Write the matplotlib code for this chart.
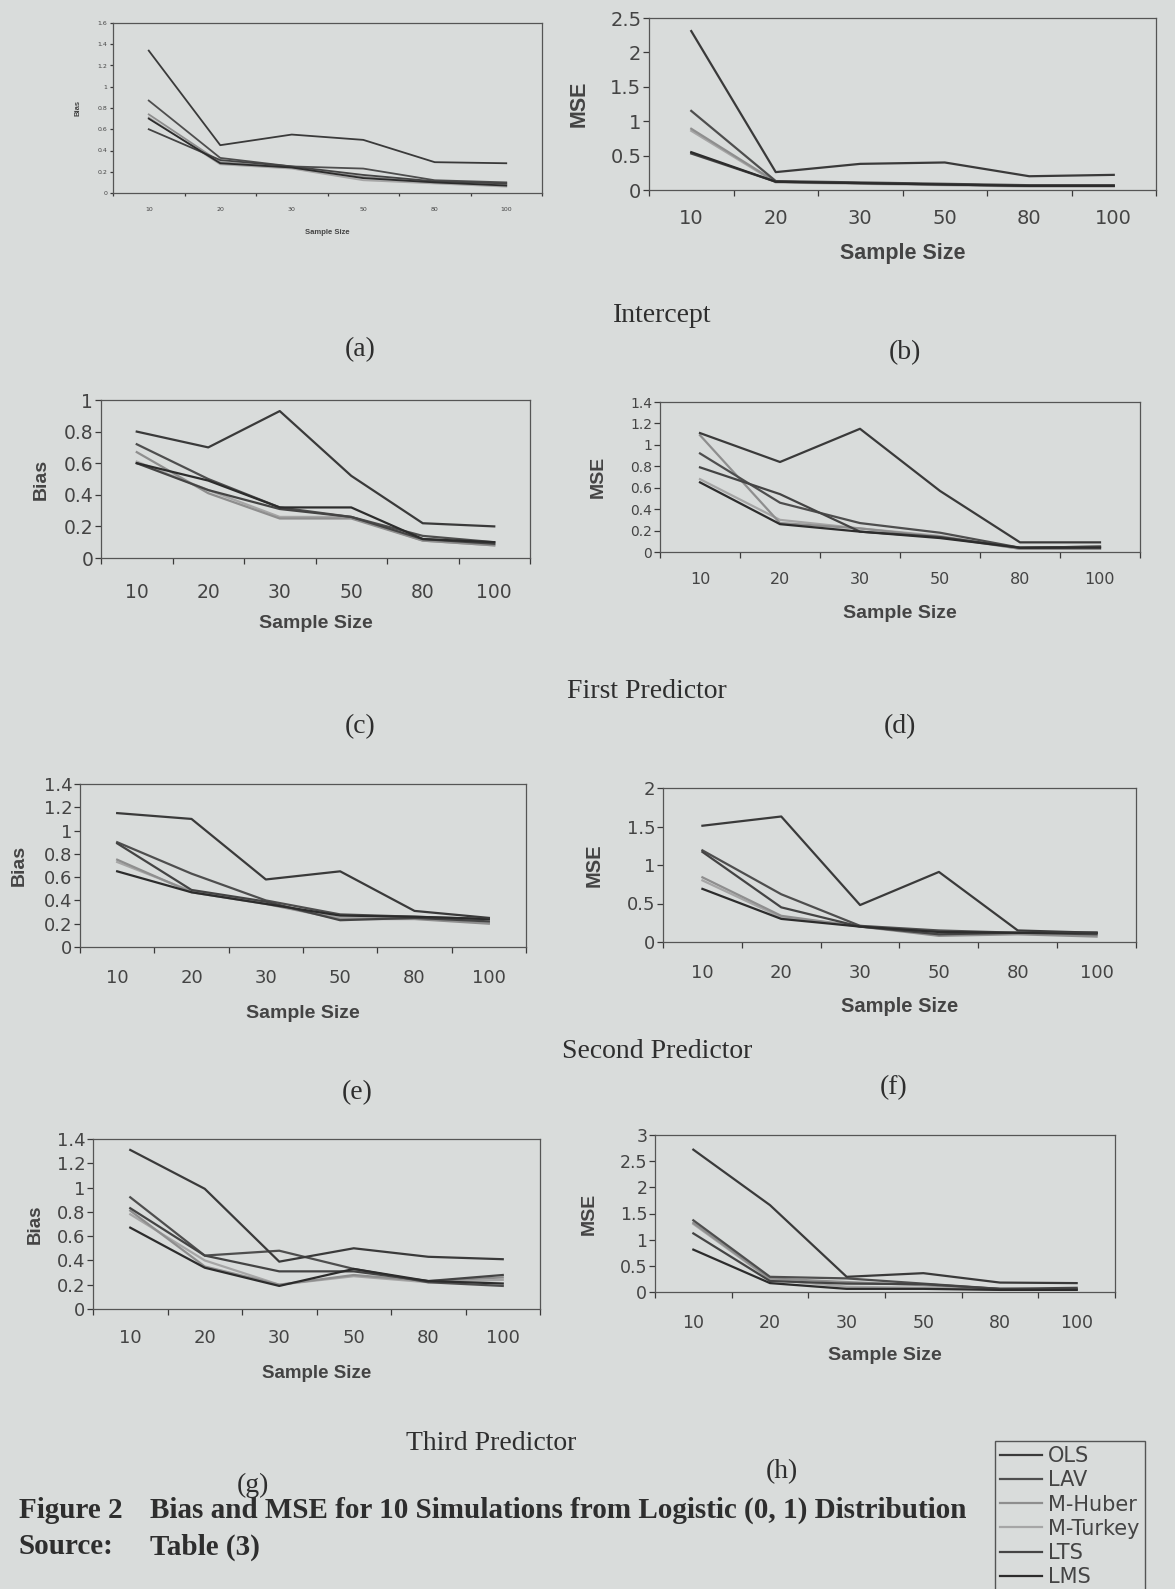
import numpy as np
import matplotlib
matplotlib.use("Agg")
import matplotlib.pyplot as plt

# ----------- DATA ------------
sample_sizes = ["10", "20", "30", "50", "80", "100"]
methods = ["OLS", "LAV", "M-Huber", "M-Turkey", "LTS", "LMS"]

# rows follow the order of methods
bias_intercept = [
    [1.34, 0.45, 0.55, 0.50, 0.29, 0.28],
    [0.87, 0.33, 0.25, 0.23, 0.12, 0.10],
    [0.74, 0.29, 0.24, 0.15, 0.10, 0.08],
    [0.71, 0.27, 0.23, 0.12, 0.09, 0.06],
    [0.60, 0.31, 0.25, 0.17, 0.11, 0.09],
    [0.70, 0.28, 0.24, 0.14, 0.10, 0.07],
]
mse_intercept = [
    [2.31, 0.26, 0.38, 0.40, 0.20, 0.22],
    [1.15, 0.13, 0.11, 0.09, 0.07, 0.07],
    [0.89, 0.12, 0.10, 0.08, 0.06, 0.06],
    [0.86, 0.11, 0.09, 0.07, 0.05, 0.05],
    [0.53, 0.12, 0.10, 0.08, 0.06, 0.06],
    [0.55, 0.12, 0.10, 0.08, 0.06, 0.06],
]
bias_first = [
    [0.80, 0.70, 0.93, 0.52, 0.22, 0.20],
    [0.72, 0.50, 0.32, 0.26, 0.14, 0.10],
    [0.67, 0.41, 0.25, 0.25, 0.11, 0.08],
    [0.61, 0.43, 0.26, 0.26, 0.11, 0.08],
    [0.60, 0.43, 0.31, 0.26, 0.12, 0.09],
    [0.60, 0.49, 0.32, 0.32, 0.12, 0.10],
]
mse_first = [
    [1.11, 0.84, 1.15, 0.57, 0.09, 0.09],
    [0.92, 0.46, 0.27, 0.18, 0.04, 0.05],
    [1.09, 0.27, 0.22, 0.14, 0.03, 0.03],
    [0.68, 0.30, 0.22, 0.15, 0.03, 0.03],
    [0.79, 0.54, 0.19, 0.14, 0.04, 0.05],
    [0.65, 0.26, 0.19, 0.13, 0.04, 0.04],
]
bias_second = [
    [1.15, 1.10, 0.58, 0.65, 0.31, 0.25],
    [0.90, 0.63, 0.40, 0.28, 0.26, 0.24],
    [0.75, 0.47, 0.37, 0.24, 0.24, 0.20],
    [0.73, 0.48, 0.38, 0.25, 0.25, 0.21],
    [0.89, 0.49, 0.39, 0.23, 0.25, 0.22],
    [0.65, 0.47, 0.37, 0.27, 0.26, 0.24],
]
mse_second = [
    [1.51, 1.63, 0.48, 0.91, 0.15, 0.12],
    [1.19, 0.62, 0.21, 0.15, 0.12, 0.12],
    [0.84, 0.34, 0.20, 0.08, 0.10, 0.07],
    [0.80, 0.32, 0.21, 0.11, 0.11, 0.09],
    [1.17, 0.45, 0.20, 0.10, 0.12, 0.10],
    [0.69, 0.30, 0.20, 0.13, 0.12, 0.12],
]
bias_third = [
    [1.31, 0.99, 0.39, 0.50, 0.43, 0.41],
    [0.92, 0.44, 0.48, 0.33, 0.22, 0.19],
    [0.81, 0.35, 0.20, 0.28, 0.23, 0.26],
    [0.78, 0.40, 0.20, 0.27, 0.22, 0.24],
    [0.83, 0.44, 0.31, 0.31, 0.23, 0.28],
    [0.67, 0.34, 0.19, 0.33, 0.23, 0.21],
]
mse_third = [
    [2.72, 1.66, 0.29, 0.36, 0.18, 0.17],
    [1.37, 0.29, 0.26, 0.16, 0.06, 0.05],
    [1.32, 0.26, 0.19, 0.13, 0.06, 0.05],
    [1.30, 0.24, 0.10, 0.08, 0.05, 0.05],
    [1.12, 0.21, 0.16, 0.15, 0.06, 0.08],
    [0.81, 0.17, 0.06, 0.06, 0.04, 0.04],
]

# ----------- STYLE ------------
W, H = 1175, 1589
paper = "#d9dcdb"
ink = "#3a3a3a"
line_colors = ["#3a3a3a", "#4e4e4e", "#8e8e8e", "#a6a6a6", "#444444", "#2c2c2c"]
sans = ["Liberation Sans", "DejaVu Sans"]
wide = ["DejaVu Sans"]
serif = ["Liberation Serif", "DejaVu Serif"]
plt.rcParams["font.family"] = sans


def rect(l, t, r, b):
    return [l / W, 1 - b / H, (r - l) / W, (b - t) / H]


def draw_panel(fig, box, data, ylabel, ymax, ystep, xtick_fs, ytick_fs, label_fs,
               xtick_off, xlabel_off, ylabel_off, lw=1.6, tick_len=4):
    l, t, r, b = box
    ax = fig.add_axes(rect(*box))
    ax.set_facecolor("none")
    x = np.arange(len(sample_sizes))
    lines = []
    # light lines first so the dark ones sit on top
    for i in [3, 2, 1, 4, 5, 0]:
        ln, = ax.plot(x, data[i], color=line_colors[i], lw=lw, label=methods[i])
        lines.append(ln)
    ax.set_xlim(-0.5, len(x) - 0.5)
    ax.set_ylim(0, ymax)
    yt = np.arange(0, ymax + 1e-9, ystep)
    ax.set_yticks(yt)
    ax.set_yticklabels([f"{v:g}" for v in yt], family=wide)
    # Excel style: tick marks between categories, labels at the centres
    ax.set_xticks(np.arange(-0.5, len(x), 1))
    ax.set_xticklabels([])
    ax.set_xticks(x, minor=True)
    ax.set_xticklabels(sample_sizes, minor=True, family=wide)
    fs_px = xtick_fs * 100 / 72
    pad = max(0.0, (xtick_off - 0.42 * fs_px) * 72 / 100)
    ax.tick_params(axis="x", which="major", length=tick_len, width=0.9, color=ink)
    ax.tick_params(axis="x", which="minor", length=0, pad=pad,
                   labelsize=xtick_fs, labelcolor="#444444")
    ax.tick_params(axis="y", length=tick_len, width=0.9, color=ink, pad=1.5,
                   labelsize=ytick_fs, labelcolor="#444444")
    for s in ax.spines.values():
        s.set_color("#555555")
        s.set_linewidth(0.9)
    ax.set_xlabel("Sample Size", fontsize=label_fs, fontweight="bold", color="#444444",
                  va="center")
    ax.set_ylabel(ylabel, fontsize=label_fs, fontweight="bold", color="#444444",
                  va="center")
    ax.xaxis.set_label_coords(0.5, -xlabel_off / (b - t))
    ax.yaxis.set_label_coords(-ylabel_off / (r - l), 0.5)
    return ax, lines


fig = plt.figure(figsize=(W / 100, H / 100), dpi=100, facecolor=paper)

draw_panel(fig, (113, 23, 542, 193), bias_intercept, "Bias", 1.6, 0.2,
           4.5, 4.5, 5.5, 17, 40, 35, lw=1.3, tick_len=2.5)
draw_panel(fig, (649, 18, 1156, 190), mse_intercept, "MSE", 2.5, 0.5,
           14, 14, 15.5, 27, 63, 70)
draw_panel(fig, (101, 400, 530, 558), bias_first, "Bias", 1.0, 0.2,
           13.5, 13.5, 14, 33, 66, 60)
draw_panel(fig, (660, 402, 1140, 552), mse_first, "MSE", 1.4, 0.2,
           11.5, 10, 14, 27, 61, 62)
draw_panel(fig, (80, 784, 526, 947), bias_second, "Bias", 1.4, 0.2,
           13, 13, 14, 30, 66, 61)
draw_panel(fig, (663, 788, 1136, 942), mse_second, "MSE", 2.0, 0.5,
           13, 13, 14.5, 30, 64, 69)
draw_panel(fig, (93, 1139, 540, 1309), bias_third, "Bias", 1.4, 0.2,
           13, 13, 13.5, 28, 64, 58)
ax_h, lines = draw_panel(fig, (655, 1135, 1115, 1292), mse_third, "MSE", 3.0, 0.5,
                         12.5, 12.5, 14, 29, 63, 66)

# ----------- PAGE TEXT ------------
def ftext(x, y, s, **kw):
    fig.text(x / W, 1 - y / H, s, color="#2e2e2e", family=serif, **kw)


for x, y, s in [(662, 315, "Intercept"), (360, 350, "(a)"), (905, 353, "(b)"),
                (647, 692, "First Predictor"), (360, 727, "(c)"), (900, 727, "(d)"),
                (657, 1052, "Second Predictor"), (357, 1093, "(e)"), (894, 1088, "(f)"),
                (491, 1443, "Third Predictor"), (253, 1485, "(g)"), (782, 1472, "(h)")]:
    ftext(x, y, s, fontsize=20, ha="center", va="center")

ftext(19, 1510, "Figure 2", fontsize=21, fontweight="bold", va="center")
ftext(150, 1510, "Bias and MSE for 10 Simulations from Logistic (0, 1) Distribution",
      fontsize=21, fontweight="bold", va="center")
ftext(19, 1547, "Source:", fontsize=21, fontweight="bold", va="center")
ftext(150, 1547, "Table (3)", fontsize=21, fontweight="bold", va="center")

# ----------- LEGEND ------------
order = {m: i for i, m in enumerate(methods)}
handles = sorted(lines, key=lambda l: order[l.get_label()])
leg = fig.legend(handles, methods, loc="upper left",
                 bbox_to_anchor=(995 / W, 1 - 1441 / H),
                 prop={"family": wide, "size": 15}, frameon=True, fancybox=False,
                 handlelength=2.0, handletextpad=0.3, labelspacing=0.2,
                 borderpad=0.25, borderaxespad=0)
leg.get_frame().set_facecolor("none")
leg.get_frame().set_edgecolor("#333333")
for t in leg.get_texts():
    t.set_color("#444444")

fig.savefig("out.png", dpi=100, facecolor=paper)
